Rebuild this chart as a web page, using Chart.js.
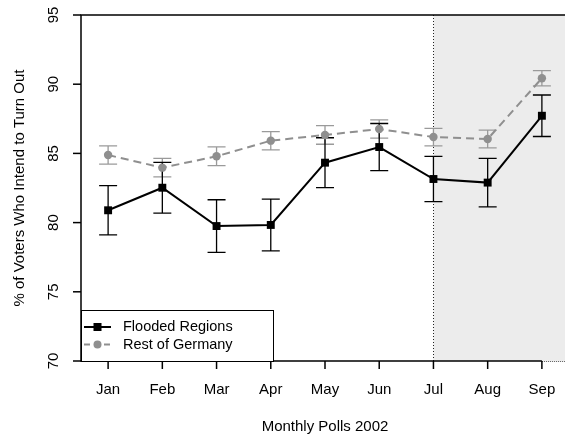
<!DOCTYPE html>
<html>
<head>
<meta charset="utf-8">
<script src="https://cdn.jsdelivr.net/npm/chart.js@4.4.1/dist/chart.umd.min.js"></script>
<style>
  html, body { margin: 0; padding: 0; background: #fff; overflow: hidden; }
  #wrap { position: relative; width: 600px; height: 439px; }
  #c { display: block; width: 600px; height: 439px; }
</style>
</head>
<body>
<div id="wrap"><canvas id="c" width="600" height="439"></canvas></div>
<script>
// Monthly turnout-intention polls, 2002
const months = ['Jan', 'Feb', 'Mar', 'Apr', 'May', 'Jun', 'Jul', 'Aug', 'Sep'];
const flooded = [80.89, 82.52, 79.75, 79.83, 84.33, 85.46, 83.15, 82.89, 87.72];
const floodedErr = [1.78, 1.83, 1.9, 1.87, 1.8, 1.7, 1.63, 1.75, 1.5];
const rest = [84.88, 83.97, 84.79, 85.92, 86.33, 86.76, 86.18, 86.04, 90.43];
const restErr = [0.66, 0.67, 0.68, 0.66, 0.67, 0.66, 0.63, 0.64, 0.55];
const yTicks = [70, 75, 80, 85, 90, 95];
const floodStart = 7; // July: the flood period begins
const xTitle = 'Monthly Polls 2002';
const yTitle = '% of Voters Who Intend to Turn Out';
const seriesNames = ['Flooded Regions', 'Rest of Germany'];

const FONT = '"Liberation Sans", Arial, Helvetica, sans-serif';
const BLACK = '#000000';
const GREY = '#8f8f8f';
const GREY_BAR = '#9a9a9a';

const toPoints = arr => arr.map((v, i) => ({ x: i + 1, y: v }));

const frame = {
  id: 'frame',
  beforeDatasetsDraw(chart) {
    const { ctx, chartArea: a, scales: { x, y } } = chart;
    ctx.save();
    // flood period shading
    const xs = x.getPixelForValue(floodStart);
    ctx.fillStyle = '#ececec';
    ctx.fillRect(xs, a.top, a.right - xs, a.bottom - a.top);
    ctx.strokeStyle = '#222';
    ctx.lineWidth = 1;
    ctx.setLineDash([1, 2]);
    ctx.beginPath();
    ctx.moveTo(Math.round(xs) + 0.5, a.top);
    ctx.lineTo(Math.round(xs) + 0.5, a.bottom);
    ctx.stroke();
    ctx.setLineDash([]);

    // error bars
    const drawBars = (vals, errs, color) => {
      ctx.strokeStyle = color;
      ctx.lineWidth = 1.3;
      vals.forEach((v, i) => {
        const px = x.getPixelForValue(i + 1);
        const top = y.getPixelForValue(v + errs[i]);
        const bot = y.getPixelForValue(v - errs[i]);
        ctx.beginPath();
        ctx.moveTo(px, top); ctx.lineTo(px, bot);
        ctx.moveTo(px - 9, top); ctx.lineTo(px + 9, top);
        ctx.moveTo(px - 9, bot); ctx.lineTo(px + 9, bot);
        ctx.stroke();
      });
    };
    drawBars(rest, restErr, GREY_BAR);
    drawBars(flooded, floodedErr, BLACK);
    ctx.restore();
  },
  afterDraw(chart) {
    const { ctx, chartArea: a, scales: { x, y } } = chart;
    ctx.save();
    ctx.strokeStyle = BLACK;
    ctx.lineWidth = 1.5;
    // plot box: left, top and bottom edges
    const lastX = x.getPixelForValue(months.length);
    ctx.beginPath();
    ctx.moveTo(a.right + 5, a.top);
    ctx.lineTo(a.left, a.top);
    ctx.lineTo(a.left, a.bottom);
    ctx.lineTo(lastX, a.bottom);
    ctx.stroke();
    ctx.strokeStyle = '#555';
    ctx.lineWidth = 1;
    ctx.setLineDash([1, 1]);
    ctx.beginPath();
    ctx.moveTo(lastX, a.bottom + 0.5);
    ctx.lineTo(a.right + 5, a.bottom + 0.5);
    ctx.stroke();
    ctx.setLineDash([]);
    ctx.strokeStyle = BLACK;
    ctx.lineWidth = 1.5;

    ctx.fillStyle = BLACK;
    ctx.font = '15px ' + FONT;
    // x axis ticks and labels
    ctx.textAlign = 'center';
    ctx.textBaseline = 'middle';
    months.forEach((m, i) => {
      const px = x.getPixelForValue(i + 1);
      ctx.beginPath();
      ctx.moveTo(px, a.bottom); ctx.lineTo(px, a.bottom + 8);
      ctx.stroke();
      ctx.fillText(m, px, 390);
    });
    ctx.fillText(xTitle, (a.left + a.right) / 2, 427);

    // y axis ticks and rotated labels
    yTicks.forEach(t => {
      const py = y.getPixelForValue(t);
      ctx.beginPath();
      ctx.moveTo(a.left, py); ctx.lineTo(a.left - 8, py);
      ctx.stroke();
      ctx.save();
      ctx.translate(54, py);
      ctx.rotate(-Math.PI / 2);
      ctx.fillText(String(t), 0, 0);
      ctx.restore();
    });
    ctx.save();
    ctx.translate(20, (a.top + a.bottom) / 2);
    ctx.rotate(-Math.PI / 2);
    ctx.fillText(yTitle, 0, 0);
    ctx.restore();

    // legend
    const lx = a.left, ly = 310, lw = 192, lh = a.bottom - 310;
    ctx.fillStyle = '#fff';
    ctx.fillRect(lx, ly, lw, lh);
    ctx.lineWidth = 1;
    ctx.strokeRect(lx + 0.5, ly + 0.5, lw, lh);
    const rows = [
      { y: 327, color: BLACK, dash: [], marker: 'square' },
      { y: 344.5, color: GREY, dash: [6, 4], marker: 'circle' }
    ];
    rows.forEach((r, i) => {
      ctx.strokeStyle = r.color;
      ctx.lineWidth = 2;
      ctx.setLineDash(r.dash);
      ctx.beginPath();
      ctx.moveTo(84, r.y); ctx.lineTo(111, r.y);
      ctx.stroke();
      ctx.setLineDash([]);
      ctx.fillStyle = r.color;
      if (r.marker === 'square') {
        ctx.fillRect(97.5 - 4, r.y - 4, 8, 8);
      } else {
        ctx.beginPath();
        ctx.arc(97.5, r.y, 4, 0, Math.PI * 2);
        ctx.fill();
      }
      ctx.fillStyle = BLACK;
      ctx.font = '14.5px ' + FONT;
      ctx.textAlign = 'left';
      ctx.fillText(seriesNames[i], 123, r.y);
    });
    ctx.restore();
  }
};

new Chart(document.getElementById('c'), {
  type: 'line',
  data: {
    datasets: [
      {
        label: seriesNames[1],
        data: toPoints(rest),
        borderColor: GREY,
        backgroundColor: GREY,
        borderWidth: 2,
        borderDash: [8, 5],
        pointStyle: 'circle',
        pointRadius: 4.2,
        pointBorderWidth: 0,
        tension: 0
      },
      {
        label: seriesNames[0],
        data: toPoints(flooded),
        borderColor: BLACK,
        backgroundColor: BLACK,
        borderWidth: 2,
        pointStyle: 'rect',
        pointRadius: 5.6,
        pointBorderWidth: 0,
        tension: 0
      }
    ]
  },
  options: {
    responsive: false,
    animation: false,
    devicePixelRatio: 1,
    layout: { autoPadding: false, padding: { left: 81, top: 15, right: 31, bottom: 78 } },
    plugins: { legend: { display: false }, tooltip: { enabled: false } },
    scales: {
      x: { type: 'linear', min: 0.5, max: 9.5, display: false },
      y: { type: 'linear', min: 70, max: 95, display: false }
    }
  },
  plugins: [frame]
});
</script>
</body>
</html>
